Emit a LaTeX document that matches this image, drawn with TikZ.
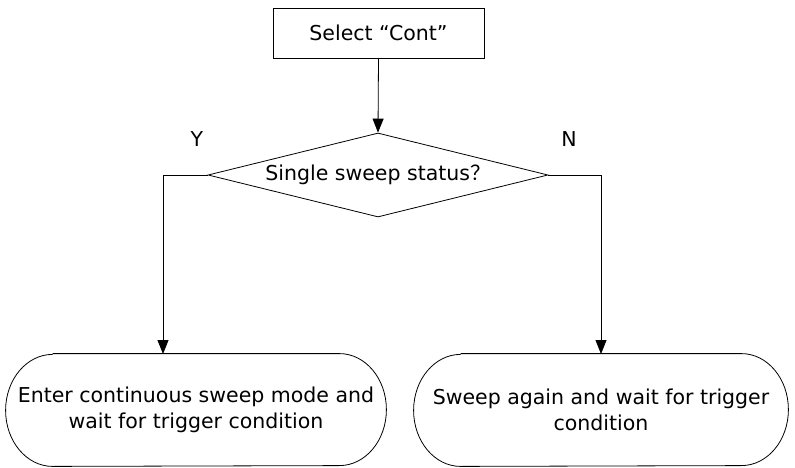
\documentclass[tikz,border=0pt]{standalone}
\usepackage{fontspec}
\setmainfont{DejaVu Sans}
\newfontfamily\cjk{Noto Sans CJK SC}
\usetikzlibrary{shapes.geometric,arrows.meta}
\begin{document}
\begin{tikzpicture}[x=1pt,y=-1pt,
  line width=0.8pt,
  every node/.style={font=\fontsize{20.5pt}{26pt}\selectfont, inner sep=0pt},
  procbox/.style={draw, rectangle, minimum width=211pt, minimum height=50pt},
  decision/.style={draw, diamond, shape aspect=4.05, minimum width=340pt, minimum height=84pt},
  termtext/.style={rectangle, align=center, minimum height=112pt},
  arr/.style={-{Triangle[width=11pt,length=14pt]}},
  stadium/.style={line width=0.8pt}
]
\useasboundingbox (0,0) rectangle (795,468);

\node[procbox] (sel) at (378.5,33) {Select “Cont”};
\node[decision] (dec) at (378,175) {Single sweep status{\cjk ？}};
\node (ylab) at (197,139) {Y};
\node (nlab) at (569,139) {N};

\node[termtext, minimum width=380pt] (L) at (196,410) {Enter continuous sweep mode and\\wait for trigger condition};
\node[termtext, minimum width=374pt] (R) at (601,410) {Sweep again and wait for trigger\\condition};

% stadium outlines
\draw[stadium] ([xshift=47pt]L.north west) -- ([xshift=-47pt]L.north east)
  arc[start angle=90, end angle=-90, x radius=47pt, y radius=56pt]
  -- ([xshift=47pt]L.south west)
  arc[start angle=270, end angle=90, x radius=47pt, y radius=56pt];
\draw[stadium] ([xshift=47pt]R.north west) -- ([xshift=-47pt]R.north east)
  arc[start angle=90, end angle=-90, x radius=47pt, y radius=56pt]
  -- ([xshift=47pt]R.south west)
  arc[start angle=270, end angle=90, x radius=47pt, y radius=56pt];

\coordinate (lt) at (163,354);
\coordinate (rt) at (601,354);

\draw[arr] (sel.south) -- (dec.north);
\draw[arr] (dec.west) -| (lt);
\draw[arr] (dec.east) -| (rt);
\end{tikzpicture}
\end{document}
